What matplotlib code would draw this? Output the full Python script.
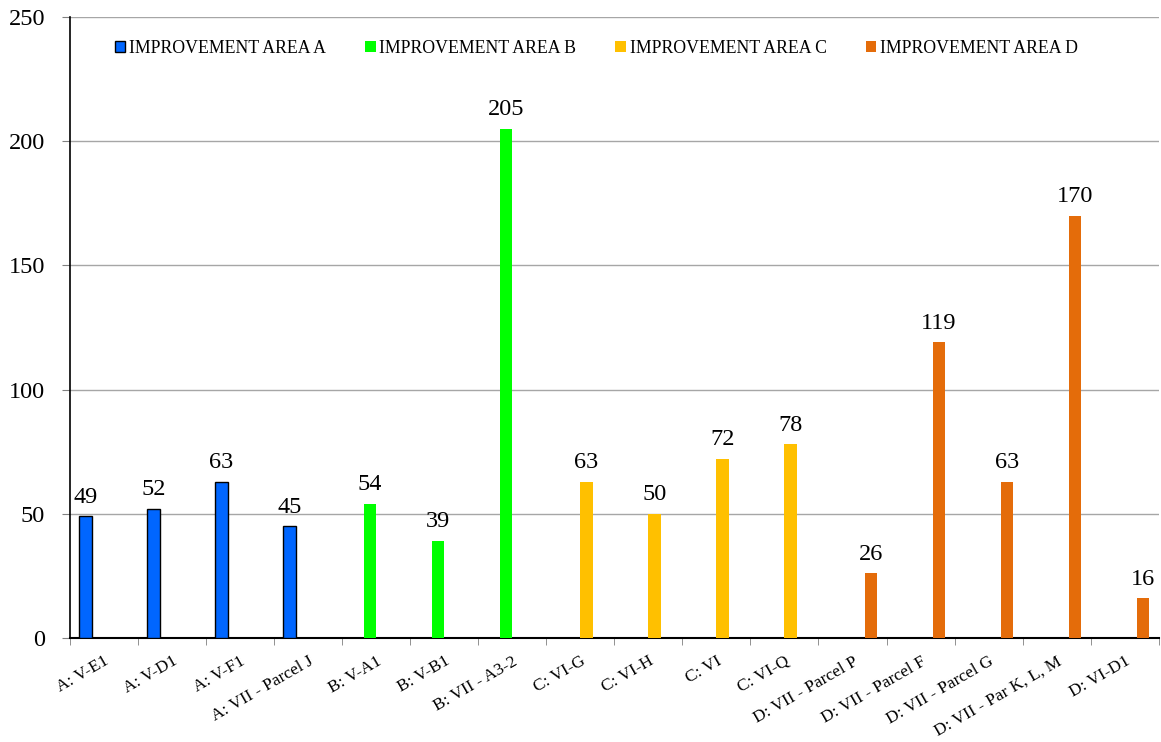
import numpy as np
import matplotlib.pyplot as plt
from matplotlib.patches import Patch

plt.rcParams['font.family'] = ['Liberation Serif', 'DejaVu Serif']

categories = ['A: V-E1', 'A: V-D1', 'A: V-F1', 'A: VII - Parcel J',
              'B: V-A1', 'B: V-B1', 'B: VII - A3-2',
              'C: VI-G', 'C: VI-H', 'C: VI', 'C: VI-Q',
              'D: VII - Parcel P', 'D: VII - Parcel F', 'D: VII - Parcel G',
              'D: VII - Par K, L, M', 'D: VI-D1']
values = [49, 52, 63, 45, 54, 39, 205, 63, 50, 72, 78, 26, 119, 63, 170, 16]
groups = ['A', 'A', 'A', 'A', 'B', 'B', 'B', 'C', 'C', 'C', 'C',
          'D', 'D', 'D', 'D', 'D']
series = ['IMPROVEMENT AREA A', 'IMPROVEMENT AREA B',
          'IMPROVEMENT AREA C', 'IMPROVEMENT AREA D']
series_keys = ['A', 'B', 'C', 'D']
colors = {'A': '#0066FF', 'B': '#00FF00', 'C': '#FFC000', 'D': '#E46C0A'}
edges = {'A': 'black', 'B': 'none', 'C': 'none', 'D': 'none'}

fig = plt.figure(figsize=(11.61, 7.42), dpi=100)
ax = fig.add_axes([0.0603, 0.1402, 0.9377, 0.8368])

x = np.arange(len(categories))
w = 0.182
for i, key in enumerate(series_keys):
    idx = [j for j, g in enumerate(groups) if g == key]
    xs = x[idx] + (i - 1.5) * w
    vs = [values[j] for j in idx]
    ax.bar(xs, vs, width=w, color=colors[key], edgecolor=edges[key],
           linewidth=1.0 if key == 'A' else 0, zorder=3)
    for xx, v in zip(xs, vs):
        ax.text(xx, v + 3.5, str(v), ha='center', va='bottom', fontsize=17.5,
                zorder=4)

ax.set_xlim(-0.5, len(categories) - 0.5)
ax.set_ylim(0, 250)
ax.set_yticks(np.arange(0, 251, 50))
ax.yaxis.grid(True, color='#A6A6A6', linewidth=1.0, zorder=0)
ax.tick_params(axis='y', labelsize=17.5, length=6, pad=12, color='#808080')

ax.set_xticks(x)
ax.set_xticklabels(categories, rotation=30, ha='right',
                   rotation_mode='anchor', fontsize=12.5)
ax.tick_params(axis='x', which='major', length=0, pad=11)
ax.set_xticks(np.arange(-0.5, len(categories), 1), minor=True)
ax.tick_params(axis='x', which='minor', length=5, color='#808080')

for s in ['top', 'right']:
    ax.spines[s].set_visible(False)
ax.spines['left'].set_linewidth(1.2)
ax.spines['bottom'].set_linewidth(1.5)

handles = [Patch(facecolor=colors[k], edgecolor=edges[k],
                 linewidth=1.0 if k == 'A' else 0) for k in series_keys]
ax.legend(handles, series, loc='upper left', bbox_to_anchor=(0.041, 0.963),
          ncol=4, frameon=False, fontsize=12.8, handlelength=0.6,
          handleheight=0.6, handletextpad=0.2, columnspacing=2.2,
          borderpad=0, borderaxespad=0)

fig.savefig('out.png', dpi=100)
